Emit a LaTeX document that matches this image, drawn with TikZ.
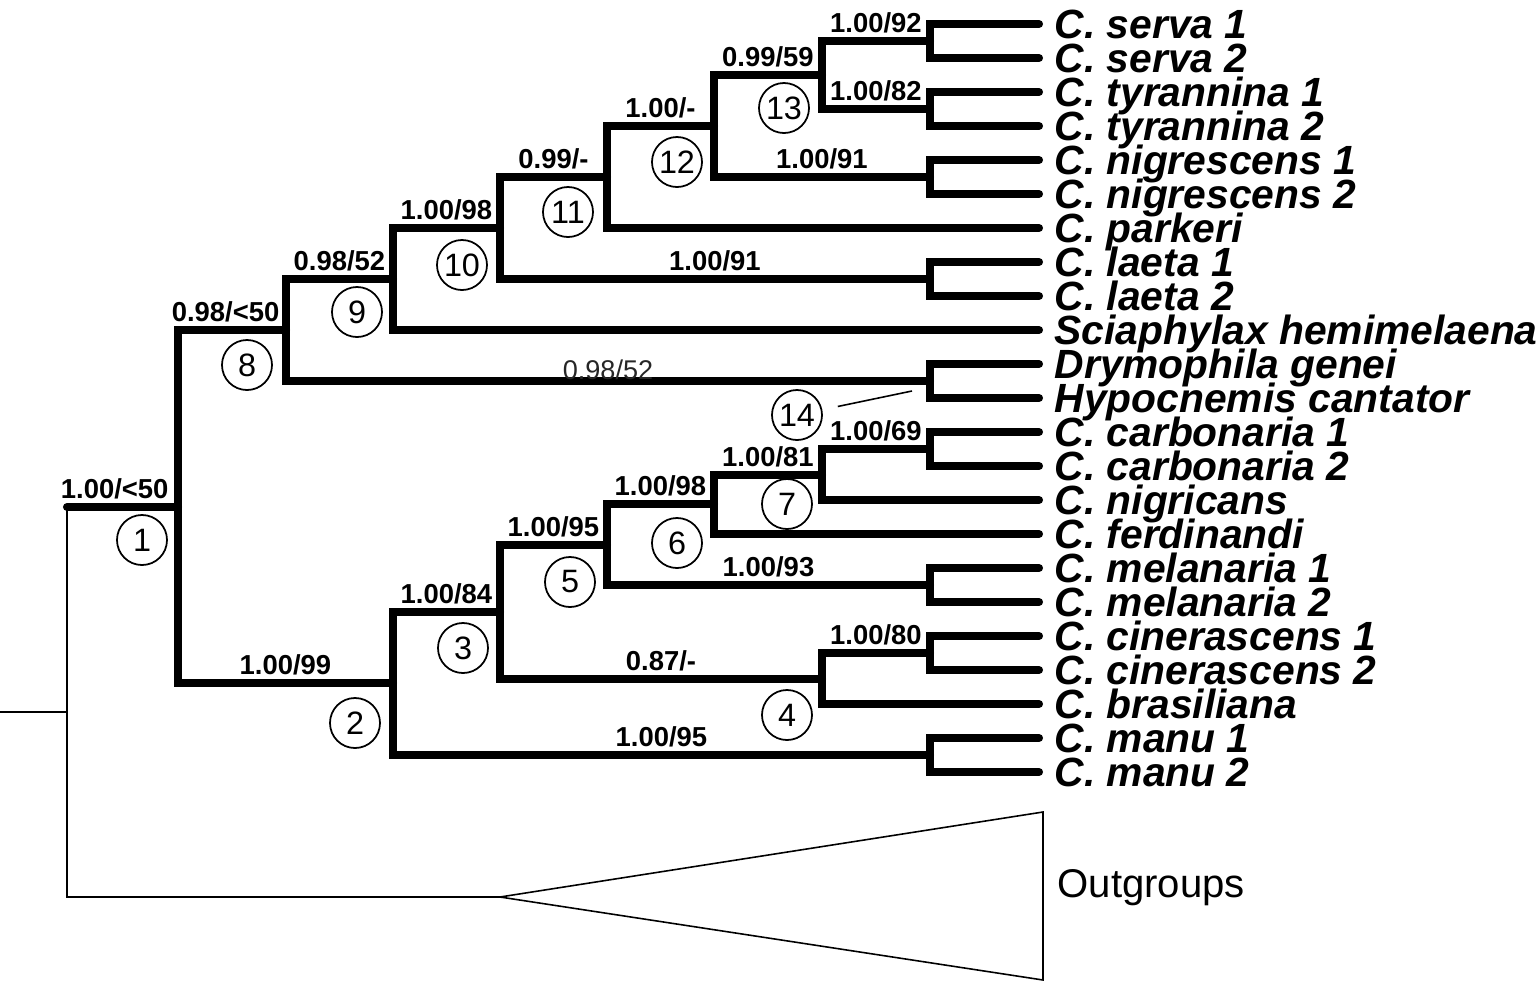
\documentclass[tikz,border=0pt]{standalone}
\usepackage{fontspec}
\setmainfont{Liberation Sans}
\begin{document}
\begin{tikzpicture}[x=0.01cm,y=-0.01cm,
    branch/.style={line width=2.3pt,line cap=round,line join=miter},
    thinline/.style={line width=0.45pt},
    support/.style={above=1.3pt,inner sep=0pt,text depth=0pt,font=\bfseries\fontsize{7.8}{8}\selectfont},
    weaksupport/.style={above=-0.6pt,inner sep=0pt,text depth=0pt,text=black!85,font=\fontsize{7.7}{8}\selectfont},
    clade/.style={circle,draw,line width=0.5pt,minimum size=0.5cm,inner sep=0pt,font=\fontsize{9.2}{9}\selectfont},
    taxon/.style={anchor=west,inner sep=0pt,text height=8.3pt,text depth=0pt,font=\bfseries\itshape\fontsize{11.6}{12}\selectfont}]
\useasboundingbox (0,0) rectangle (1538,984);

% tips and names
\foreach \i/\name in {0/C. serva 1,1/C. serva 2,2/C. tyrannina 1,3/C. tyrannina 2,
    4/C. nigrescens 1,5/C. nigrescens 2,6/C. parkeri,7/C. laeta 1,8/C. laeta 2,
    9/Sciaphylax hemimelaena,10/Drymophila genei,11/Hypocnemis cantator,
    12/C. carbonaria 1,13/C. carbonaria 2,14/C. nigricans,15/C. ferdinandi,
    16/C. melanaria 1,17/C. melanaria 2,18/C. cinerascens 1,19/C. cinerascens 2,
    20/C. brasiliana,21/C. manu 1,22/C. manu 2}{
  \coordinate (t\i) at (1039,24+34*\i);
  \node[taxon] (l\i) at (1054,24+34*\i) {\name};
}

% internal nodes
\coordinate (stub) at (0,712);
\coordinate (root) at (67,712);
\coordinate (n0) at (67,507);
\coordinate (n1) at (178,507);
\coordinate (n2) at (393,683);
\coordinate (n3) at (500,612);
\coordinate (n4) at (822,679);
\coordinate (n5) at (607,545);
\coordinate (n6) at (714,504);
\coordinate (n7) at (822,475);
\coordinate (n8) at (286,330);
\coordinate (n9) at (393,279);
\coordinate (n10) at (500,228);
\coordinate (n11) at (607,177);
\coordinate (n12) at (714,126);
\coordinate (n13) at (822,75);
% cherries
\coordinate (serva) at (930,41);
\coordinate (tyr) at (930,109);
\coordinate (nigr) at (930,177);
\coordinate (laeta) at (930,279);
\coordinate (dh) at (930,381);
\coordinate (carb) at (930,449);
\coordinate (mel) at (930,585);
\coordinate (cin) at (930,653);
\coordinate (manu) at (930,755);
% outgroups
\coordinate (og) at (500,897);
\coordinate (ogtop) at (1043,812);
\coordinate (ogbot) at (1043,980);

% thin part
\draw[thinline] (stub) -- (root);
\draw[thinline] (n0) |- (og);
\draw[thinline,line join=miter] (og) -- (ogtop) -- (ogbot) -- cycle;
\node[anchor=base west,inner sep=0pt,font=\fontsize{11.4}{12}\selectfont] (outg) at (1057,897) {Outgroups};

% upper clade
\draw[branch] (n0) -- node[support,pos=0.43] {1.00/<50} (n1);
\draw[branch] (n1) |- node[support,pos=0.72] {0.98/<50} (n8);
\draw[branch] (n1) |- node[support,pos=0.75] {1.00/99} (n2);
\draw[branch] (n8) |- node[support,pos=0.75] {0.98/52} (n9);
\draw[branch] (n8) |- node[weaksupport,pos=0.75] {0.98/52} (dh);
\draw[branch] (n9) |- node[support,pos=0.75] {1.00/98} (n10);
\draw[branch] (n9) |- (t9);
\draw[branch] (n10) |- node[support,pos=0.75] {0.99/-} (n11);
\draw[branch] (n10) |- node[support,pos=0.75] {1.00/91} (laeta);
\draw[branch] (n11) |- node[support,pos=0.75] {1.00/-} (n12);
\draw[branch] (n11) |- (t6);
\draw[branch] (n12) |- node[support,pos=0.75] {0.99/59} (n13);
\draw[branch] (n12) |- node[support,pos=0.75] {1.00/91} (nigr);
\draw[branch] (n13) |- node[support,pos=0.75] {1.00/92} (serva);
\draw[branch] (n13) |- node[support,pos=0.75] {1.00/82} (tyr);
\draw[branch] (serva) |- (t0);
\draw[branch] (serva) |- (t1);
\draw[branch] (tyr) |- (t2);
\draw[branch] (tyr) |- (t3);
\draw[branch] (nigr) |- (t4);
\draw[branch] (nigr) |- (t5);
\draw[branch] (laeta) |- (t7);
\draw[branch] (laeta) |- (t8);
\draw[branch] (dh) |- (t10);
\draw[branch] (dh) |- (t11);

% lower clade
\draw[branch] (n2) |- node[support,pos=0.75] {1.00/84} (n3);
\draw[branch] (n2) |- node[support,pos=0.75] {1.00/95} (manu);
\draw[branch] (n3) |- node[support,pos=0.75] {1.00/95} (n5);
\draw[branch] (n3) |- node[support,pos=0.75] {0.87/-} (n4);
\draw[branch] (n5) |- node[support,pos=0.75] {1.00/98} (n6);
\draw[branch] (n5) |- node[support,pos=0.75] {1.00/93} (mel);
\draw[branch] (n6) |- node[support,pos=0.75] {1.00/81} (n7);
\draw[branch] (n6) |- (t15);
\draw[branch] (n7) |- node[support,pos=0.75] {1.00/69} (carb);
\draw[branch] (n7) |- (t14);
\draw[branch] (n4) |- node[support,pos=0.75] {1.00/80} (cin);
\draw[branch] (n4) |- (t20);
\draw[branch] (carb) |- (t12);
\draw[branch] (carb) |- (t13);
\draw[branch] (mel) |- (t16);
\draw[branch] (mel) |- (t17);
\draw[branch] (cin) |- (t18);
\draw[branch] (cin) |- (t19);
\draw[branch] (manu) |- (t21);
\draw[branch] (manu) |- (t22);

% clade numbers
\node[clade] (c1) at (142,540) {1};
\node[clade] (c2) at (355,723) {2};
\node[clade] (c3) at (463,648) {3};
\node[clade] (c4) at (787,715) {4};
\node[clade] (c5) at (570,582) {5};
\node[clade] (c6) at (677,543) {6};
\node[clade] (c7) at (787,504) {7};
\node[clade] (c8) at (247,365) {8};
\node[clade] (c9) at (357,312) {9};
\node[clade] (c10) at (462,265) {10};
\node[clade] (c11) at (568,212) {11};
\node[clade] (c12) at (677,162) {12};
\node[clade] (c13) at (784,108) {13};
\node[clade] (c14) at (797,415) {14};
\coordinate (dhmark) at (912,391);
\draw[thinline,shorten <=4.5pt] (c14) -- (dhmark);
\end{tikzpicture}
\end{document}
